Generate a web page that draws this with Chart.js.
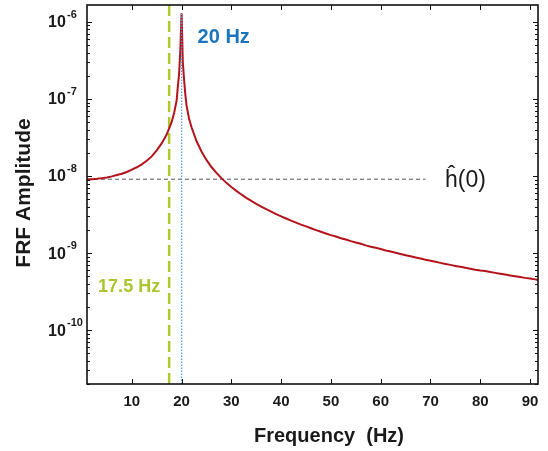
<!DOCTYPE html>
<html><head><meta charset="utf-8">
<script src="https://cdn.jsdelivr.net/npm/chart.js@4.4.0/dist/chart.umd.min.js"></script>
<style>html,body{margin:0;padding:0;background:#fff}#wrap{width:548px;height:451px}</style>
</head><body><div id="wrap"><canvas id="c" width="548" height="451"></canvas></div>
<script>
// ---- data ----
const freqHz = [1,2,3,4,5,6,7,8,9,10,11,12,13,14,15,16,17,18,18.5,19,19.25,19.5,19.75,20,20.25,20.5,20.75,21,21.5,
  22,23,24,25,26,27,28,29,30,31,32,33,34,35,36,37,38,39,40,41,42,43,44,45,46,47,48,49,50,
  51,52,53,54,55,56,57,58,59,60,61,62,63,64,65,66,67,68,69,70,71,72,73,74,75,76,77,78,79,80,
  81,82,83,84,85,86,87,88,89,90,91,92];
const frfAmplitude = [9.0e-9,9.1e-9,9.2e-9,9.4e-9,9.6e-9,9.9e-9,1.03e-8,1.07e-8,1.13e-8,1.21e-8,1.3e-8,1.42e-8,1.58e-8,1.8e-8,2.15e-8,2.65e-8,3.45e-8,5.0e-8,6.6e-8,9.5e-8,1.45e-7,2.1e-7,4.4e-7,1.3e-6,3.0e-7,1.8e-7,1.15e-7,8.2e-8,5.6e-8,
  4.3e-8,2.85e-8,2.08e-8,1.62e-8,1.31e-8,1.1e-8,9.4e-9,8.16e-9,7.2e-9,6.42e-9,5.77e-9,5.22e-9,4.76e-9,4.36e-9,4.02e-9,3.71e-9,3.45e-9,3.21e-9,3.0e-9,2.81e-9,2.64e-9,2.49e-9,2.34e-9,2.22e-9,2.1e-9,1.99e-9,1.89e-9,1.8e-9,1.71e-9,
  1.64e-9,1.56e-9,1.5e-9,1.43e-9,1.37e-9,1.32e-9,1.26e-9,1.21e-9,1.17e-9,1.13e-9,1.08e-9,1.05e-9,1.01e-9,9.73e-10,9.39e-10,9.08e-10,8.78e-10,8.49e-10,8.22e-10,7.96e-10,7.71e-10,7.47e-10,7.24e-10,7.03e-10,6.82e-10,6.63e-10,6.44e-10,6.26e-10,6.09e-10,5.95e-10,
  5.84e-10,5.69e-10,5.54e-10,5.4e-10,5.26e-10,5.13e-10,5.01e-10,4.89e-10,4.77e-10,4.67e-10,4.56e-10,4.45e-10];
const xTickValues = [10,20,30,40,50,60,70,80,90];
const yTickExponents = [-6,-7,-8,-9,-10];
const staticLevel = 9.1e-9;        // ĥ(0)
const staticLineEndHz = 69;
const resonanceHz = 20;
const resonancePeak = 1.35e-6;
const markerHz = 17.5;
const xRange = [1, 91.6];
const yRange = [2e-11, 1.66e-6];

const FONT = '"Liberation Sans", Arial, Helvetica, sans-serif';

const decor = {
  id: 'decor',
  afterDatasetsDraw(chart) {
    const {ctx, chartArea: a, scales: {x, y}} = chart;
    ctx.save();
    const seg = (x1, y1, x2, y2) => { ctx.beginPath(); ctx.moveTo(x1, y1); ctx.lineTo(x2, y2); ctx.stroke(); };
    ctx.strokeStyle = '#111'; ctx.lineWidth = 1;
    xTickValues.forEach(v => {
      const px = Math.round(x.getPixelForValue(v)) + 0.5;
      seg(px, a.bottom, px, a.bottom - 5);
      seg(px, a.top, px, a.top + 5);
    });
    for (let e = -11; e <= -6; e++) {
      for (let m = 1; m <= 9; m++) {
        const v = m * Math.pow(10, e);
        if (v < y.min || v > y.max) continue;
        const py = Math.round(y.getPixelForValue(v)) + 0.5;
        const len = m === 1 ? 5 : 3;
        seg(a.left, py, a.left + len, py);
        seg(a.right, py, a.right - len, py);
      }
    }
    ctx.lineWidth = 1.6;
    ctx.strokeRect(a.left, a.top, a.right - a.left, a.bottom - a.top);

    // y tick labels 10^n
    ctx.fillStyle = '#1a1a1a';
    ctx.textAlign = 'left'; ctx.textBaseline = 'middle';
    yTickExponents.forEach(e => {
      const py = y.getPixelForValue(Math.pow(10, e));
      ctx.font = 'bold 16px ' + FONT;
      ctx.fillText('10', a.left - 39, py + 1);
      ctx.font = 'bold 11px ' + FONT;
      ctx.fillText(String(e), a.left - 20, py - 7);
    });

    // axis titles
    ctx.font = 'bold 20px ' + FONT;
    ctx.textAlign = 'center'; ctx.textBaseline = 'alphabetic';
    ctx.fillText('Frequency  (Hz)', 329, 442);
    ctx.save();
    ctx.translate(30, 193);
    ctx.rotate(-Math.PI / 2);
    ctx.font = 'bold 21px ' + FONT;
    ctx.fillText('FRF Amplitude', 0, 0);
    ctx.restore();

    // annotations
    ctx.font = 'bold 20px ' + FONT;
    ctx.fillStyle = '#1b75bc';
    ctx.textAlign = 'left'; ctx.textBaseline = 'middle';
    ctx.fillText('20 Hz', x.getPixelForValue(resonanceHz) + 16, 37);
    ctx.font = 'bold 18px ' + FONT;
    ctx.fillStyle = '#a9c52f';
    ctx.textAlign = 'right';
    ctx.fillText('17.5 Hz', x.getPixelForValue(markerHz) - 9, 287);
    ctx.font = '23px ' + FONT;
    ctx.fillStyle = '#1a1a1a';
    ctx.textAlign = 'left'; ctx.textBaseline = 'alphabetic';
    ctx.fillText('\u0125(0)', 445, 187);
    ctx.restore();
  }
};

new Chart(document.getElementById('c'), {
  type: 'line',
  data: {
    datasets: [
      {
        label: 'FRF',
        data: freqHz.map((f, i) => ({x: f, y: frfAmplitude[i]})),
        borderColor: '#b3141c', borderWidth: 2, pointRadius: 0, order: 1
      },
      {
        label: 'h(0)',
        data: [{x: xRange[0], y: staticLevel}, {x: staticLineEndHz, y: staticLevel}],
        borderColor: '#555', borderWidth: 1, borderDash: [4, 3], pointRadius: 0, order: 3
      },
      {
        label: '17.5 Hz',
        data: [{x: markerHz, y: yRange[0]}, {x: markerHz, y: yRange[1]}],
        borderColor: '#b1c92b', borderWidth: 2.5, borderDash: [11, 5], pointRadius: 0, order: 2
      },
      {
        label: '20 Hz',
        data: [{x: resonanceHz, y: yRange[0]}, {x: resonanceHz, y: resonancePeak}],
        borderColor: '#4f9be3', borderWidth: 1.3, borderDash: [1.5, 1.5], pointRadius: 0, order: 0
      }
    ]
  },
  options: {
    responsive: false, animation: false,
    layout: {padding: {top: 5, right: 10, left: 0, bottom: 0}},
    plugins: {legend: {display: false}, tooltip: {enabled: false}},
    scales: {
      x: {
        type: 'linear', min: xRange[0], max: xRange[1],
        afterBuildTicks: s => { s.ticks = xTickValues.map(v => ({value: v})); },
        ticks: {font: {family: FONT, size: 15, weight: 'bold'}, color: '#1a1a1a', padding: 9, maxRotation: 0, autoSkip: false},
        grid: {display: false, drawTicks: false},
        border: {display: false},
        afterFit: s => { s.height = 67; }
      },
      y: {
        type: 'logarithmic', min: yRange[0], max: yRange[1],
        ticks: {display: false},
        grid: {display: false, drawTicks: false},
        border: {display: false},
        afterFit: s => { s.width = 87; }
      }
    }
  },
  plugins: [decor]
});
</script></body></html>
